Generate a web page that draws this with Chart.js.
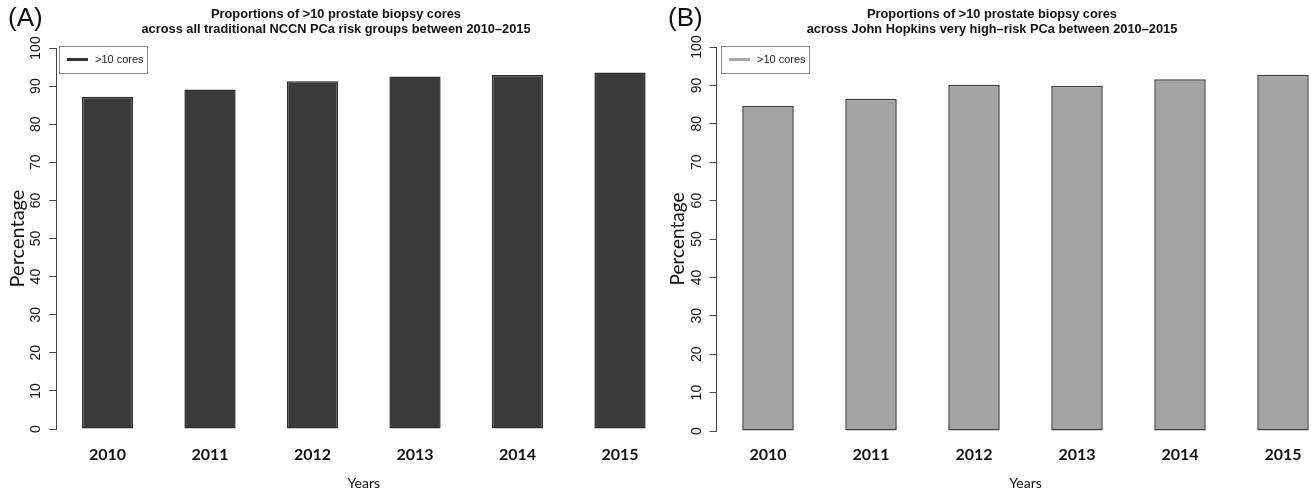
<!DOCTYPE html>
<html>
<head>
<meta charset="utf-8">
<script src="https://cdn.jsdelivr.net/npm/chart.js@4/dist/chart.umd.min.js"></script>
<style>
  html, body { margin: 0; padding: 0; background: #fff; overflow: hidden; width: 1311px; height: 495px; }
  .panel { position: absolute; top: 0; height: 495px; }
  #wrapA { left: 0; width: 680px; }
  #wrapB { left: 660px; width: 700px; }
</style>
</head>
<body>
<div class="panel" id="wrapA"><canvas id="chartA" width="680" height="495"></canvas></div>
<div class="panel" id="wrapB"><canvas id="chartB" width="700" height="495"></canvas></div>
<script>
// Share of biopsies with more than 10 cores, by year
const years = ['2010', '2011', '2012', '2013', '2014', '2015'];
const pctAllRiskGroups = [87.2, 89.1, 91.3, 92.5, 92.9, 93.6];
const pctVeryHighRisk = [84.7, 86.5, 90.2, 89.9, 91.6, 92.8];
const yTickValues = [0, 10, 20, 30, 40, 50, 60, 70, 80, 90, 100];
const seriesLabel = '>10 cores';
const titleA = ['Proportions of >10 prostate biopsy cores',
                'across all traditional NCCN PCa risk groups between 2010\u20132015'];
const titleB = ['Proportions of >10 prostate biopsy cores',
                'across John Hopkins very high\u2013risk PCa between 2010\u20132015'];

// Panel tag, two-line title and boxed legend drawn on top of each chart
const decorations = {
  id: 'decorations',
  afterDraw(chart, args, opts) {
    const ctx = chart.ctx;
    const area = chart.chartArea;
    ctx.save();
    ctx.fillStyle = '#111';
    ctx.textBaseline = 'middle';
    // panel tag
    ctx.font = '26px "Liberation Sans", Arial, sans-serif';
    ctx.textAlign = 'left';
    ctx.fillText(opts.tag, opts.tagX, 19);
    // title
    ctx.font = 'bold 12.8px "Liberation Sans", Arial, sans-serif';
    ctx.textAlign = 'center';
    opts.title.forEach((line, i) => ctx.fillText(line, opts.titleX, 14 + i * 15));
    // legend box
    const bx = area.left + opts.legendDx, by = 46, bw = 88, bh = 27;
    ctx.fillStyle = '#fff';
    ctx.fillRect(bx, by, bw, bh);
    ctx.strokeStyle = '#888';
    ctx.lineWidth = 1;
    ctx.strokeRect(bx + 0.5, by + 0.5, bw, bh);
    ctx.strokeStyle = opts.swatch;
    ctx.lineWidth = 3;
    ctx.beginPath();
    ctx.moveTo(bx + 8, by + 13.5);
    ctx.lineTo(bx + 29, by + 13.5);
    ctx.stroke();
    ctx.fillStyle = '#222';
    ctx.font = '11px "Liberation Sans", Arial, sans-serif';
    ctx.textAlign = 'left';
    ctx.fillText(seriesLabel, bx + 36, by + 14);
    ctx.restore();
  }
};

function makeChart(id, p) {
  return new Chart(document.getElementById(id), {
    type: 'bar',
    data: {
      labels: years,
      datasets: [{
        label: seriesLabel,
        data: p.values,
        backgroundColor: p.fill,
        borderColor: p.edge,
        borderWidth: p.edgeWidth,
        borderSkipped: false,
        barPercentage: 0.5,
        categoryPercentage: 1.0
      }]
    },
    options: {
      responsive: false,
      animation: false,
      events: [],
      layout: { padding: { left: 0, right: p.padRight, top: p.top, bottom: 0 } },
      plugins: {
        legend: { display: false },
        tooltip: { enabled: false },
        decorations: p.deco
      },
      scales: {
        x: {
          offset: true,
          grid: { display: false, drawTicks: false },
          border: { display: false },
          ticks: {
            padding: p.xTickPad,
            color: '#111',
            font: { family: 'Lato, "Open Sans", sans-serif', size: 16, weight: 'bold' }
          },
          title: {
            display: true,
            text: 'Years',
            color: '#111',
            padding: { top: 0, bottom: 3.6 },
            font: { family: 'Lato, "Open Sans", sans-serif', size: 14 }
          },
          afterFit: s => { s.height = p.xHeight; }
        },
        y: {
          min: 0,
          max: 100,
          afterBuildTicks: s => { s.ticks = yTickValues.map(v => ({ value: v })); },
          grid: { drawOnChartArea: false, drawTicks: true, tickLength: 7, color: '#444', tickColor: '#444' },
          border: { display: true, color: '#444', width: 1 },
          ticks: {
            minRotation: 90,
            maxRotation: 90,
            crossAlign: 'center',
            padding: 1,
            color: '#111',
            font: { family: '"Liberation Sans", Arial, sans-serif', size: 14 }
          },
          title: {
            display: true,
            text: 'Percentage',
            color: '#111',
            padding: { top: p.yTitlePad, bottom: 0 },
            font: { family: 'Lato, "Open Sans", sans-serif', size: p.yTitleSize }
          },
          afterFit: s => { s.width = p.yWidth; }
        }
      }
    },
    plugins: [decorations]
  });
}

makeChart('chartA', {
  values: pctAllRiskGroups,
  fill: '#3a3a3a',
  edge: '#2c2c2c',
  edgeWidth: 1.5,
  padRight: 8.75,
  top: 48,
  xHeight: 66,
  xTickPad: 16,
  yWidth: 56.25,
  yTitleSize: 20,
  yTitlePad: 6,
  deco: { tag: '(A)', tagX: 8, title: titleA, titleX: 336, legendDx: 2.75, swatch: '#333' }
});

makeChart('chartB', {
  values: pctVeryHighRisk,
  fill: '#a3a3a3',
  edge: '#3c3c3c',
  edgeWidth: 1.5,
  padRight: 25.5,
  top: 47,
  xHeight: 64,
  xTickPad: 14,
  yWidth: 56.5,
  yTitleSize: 19,
  yTitlePad: 6,
  deco: { tag: '(B)', tagX: 8, title: titleB, titleX: 332, legendDx: 4.5, swatch: '#aaa' }
});
</script>
</body>
</html>
